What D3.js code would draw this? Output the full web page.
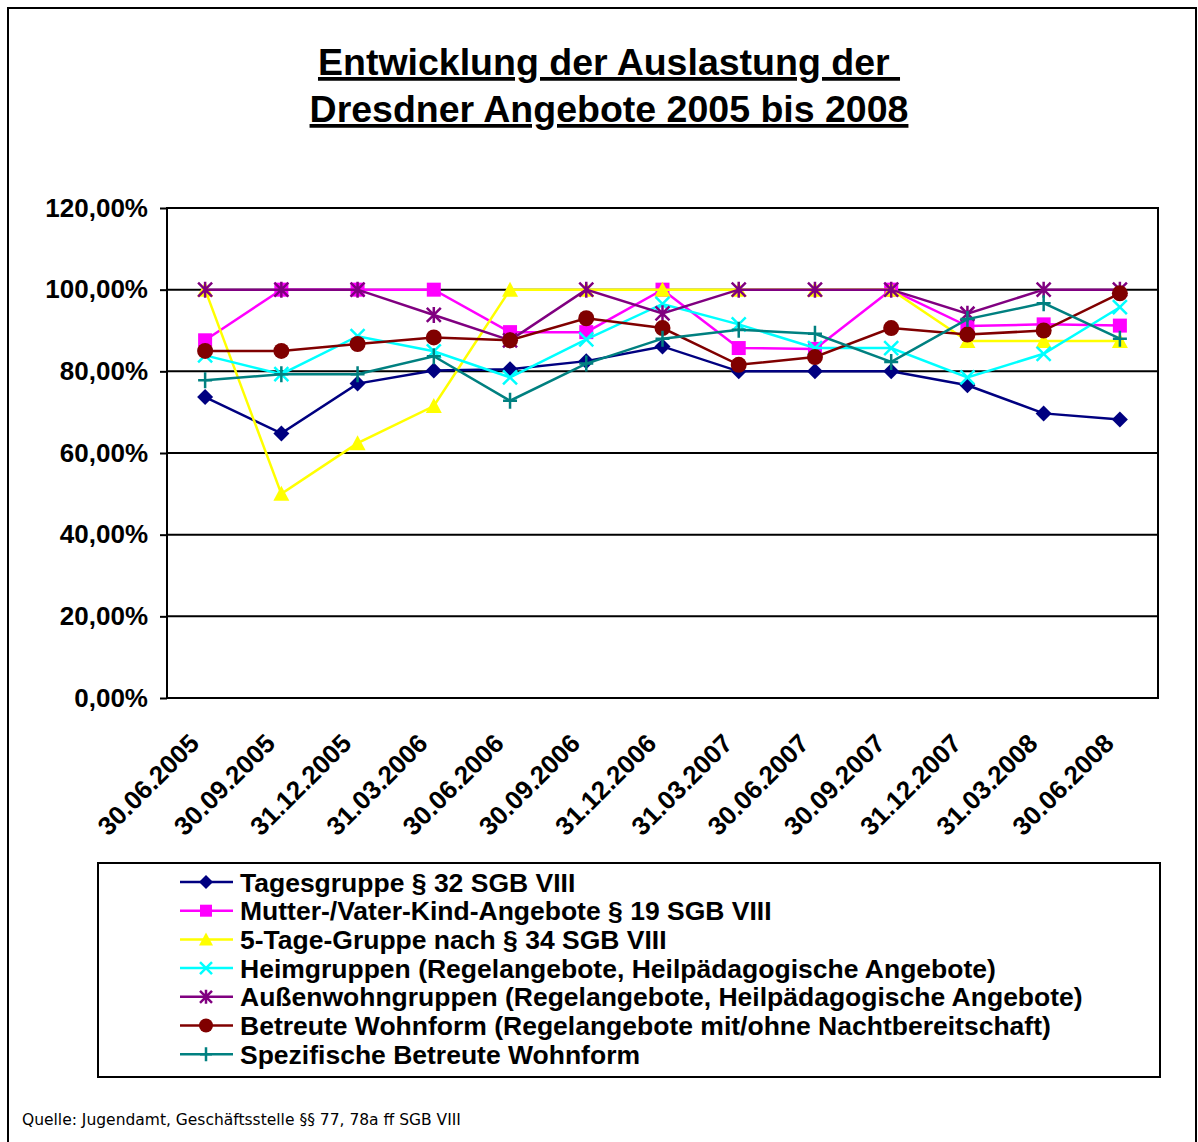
<!DOCTYPE html>
<html><head><meta charset="utf-8">
<script src="https://cdn.jsdelivr.net/npm/d3@7"></script>
<style>body{margin:0;background:#fff}svg{display:block}</style>
</head><body>
<script>
const categories = ["30.06.2005","30.09.2005","31.12.2005","31.03.2006","30.06.2006","30.09.2006","31.12.2006","31.03.2007","30.06.2007","30.09.2007","31.12.2007","31.03.2008","30.06.2008"];
const yTicks = [0,0.2,0.4,0.6,0.8,1.0,1.2];
const seriesNames = [
  "Tagesgruppe § 32 SGB VIII",
  "Mutter-/Vater-Kind-Angebote § 19 SGB VIII",
  "5-Tage-Gruppe nach § 34 SGB VIII",
  "Heimgruppen (Regelangebote, Heilpädagogische Angebote)",
  "Außenwohngruppen (Regelangebote, Heilpädagogische Angebote)",
  "Betreute Wohnform (Regelangebote mit/ohne Nachtbereitschaft)",
  "Spezifische Betreute Wohnform"
];
const tagesgruppe = [0.737,0.648,0.770,0.802,0.805,0.825,0.861,0.800,0.800,0.800,0.766,0.697,0.682];
const mutterVaterKind = [0.876,1.0,1.0,1.0,0.896,0.896,1.0,0.857,0.855,1.0,0.911,0.915,0.912];
const fuenfTage = [1.0,0.500,0.624,0.715,1.0,1.0,1.0,1.0,1.0,1.0,0.874,0.874,0.874];
const heimgruppen = [0.839,0.793,0.886,0.849,0.785,0.878,0.965,0.915,0.857,0.857,0.785,0.843,0.957];
const aussenwohngruppen = [1.0,1.0,1.0,0.938,0.876,1.0,0.942,1.0,1.0,1.0,0.941,1.0,1.0];
const betreuteWohnform = [0.850,0.850,0.867,0.883,0.876,0.930,0.906,0.816,0.835,0.906,0.890,0.900,0.991];
const spezifische = [0.778,0.793,0.793,0.837,0.728,0.819,0.880,0.902,0.892,0.823,0.928,0.967,0.880];
const seriesValues = [tagesgruppe, mutterVaterKind, fuenfTage, heimgruppen, aussenwohngruppen, betreuteWohnform, spezifische];
const colors = ["#000080","#FF00FF","#FFFF00","#00FFFF","#800080","#800000","#008080"];
const markers = ["diamond","square","triangle","x","star","circle","plus"];

const W = 1198, H = 1142;
const svg = d3.select("body").append("svg").attr("width", W).attr("height", H);
svg.append("rect").attr("x",0).attr("y",0).attr("width",W).attr("height",H).attr("fill","#fff");
svg.append("rect").attr("x",8).attr("y",8).attr("width",1188).attr("height",H).attr("fill","none").attr("stroke","#000").attr("stroke-width",2);

const FONT = "'Liberation Sans', Arial, sans-serif";
const titleLines = ["Entwicklung der Auslastung der\u00a0", "Dresdner Angebote 2005 bis 2008"];
titleLines.forEach((t,i)=>{
  svg.append("text").attr("x",609).attr("y",75+i*47).attr("text-anchor","middle")
    .attr("font-family",FONT).attr("font-weight","bold").attr("font-size",37.5)
    .attr("text-decoration","underline").attr("fill","#000").text(t);
});

const pLeft=167, pRight=1158, pTop=208, pBottom=698;
const x = d3.scalePoint().domain(categories).range([pLeft,pRight]).padding(0.5);
const y = d3.scaleLinear().domain([0,1.2]).range([pBottom,pTop]);

const fmt = v => (v*100).toFixed(2).replace(".",",") + "%";

svg.append("g").selectAll("line").data(yTicks).join("line")
  .attr("x1",pLeft).attr("x2",pRight).attr("y1",d=>y(d)).attr("y2",d=>y(d))
  .attr("stroke","#000").attr("stroke-width",2);

const yAxis = d3.axisLeft(y).tickValues(yTicks).tickFormat(fmt).tickSize(7).tickPadding(12);
const gy = svg.append("g").attr("transform",`translate(${pLeft},0)`).call(yAxis);
gy.select(".domain").remove();
gy.selectAll(".tick line").attr("stroke","#000").attr("stroke-width",2);
gy.selectAll(".tick text").attr("font-family",FONT).attr("font-weight","bold").attr("font-size",26).attr("fill","#000");

svg.append("rect").attr("x",pLeft).attr("y",pTop).attr("width",pRight-pLeft).attr("height",pBottom-pTop)
  .attr("fill","none").attr("stroke","#000").attr("stroke-width",2);

const xAxis = d3.axisBottom(x).tickSize(0).tickPadding(0);
const gx = svg.append("g").attr("transform",`translate(0,${pBottom})`).call(xAxis);
gx.select(".domain").remove();
gx.selectAll(".tick text")
  .attr("font-family",FONT).attr("font-weight","bold").attr("font-size",26).attr("fill","#000")
  .attr("text-anchor","end").attr("dy",0)
  .attr("transform","translate(-5,47) rotate(-45)");

function drawMarker(g, type, color, cx, cy, s) {
  const h = s/2;
  if (type==="diamond") {
    g.append("path").attr("d",`M${cx},${cy-h-1}L${cx+h+1},${cy}L${cx},${cy+h+1}L${cx-h-1},${cy}Z`).attr("fill",color);
  } else if (type==="square") {
    g.append("rect").attr("x",cx-h).attr("y",cy-h).attr("width",s).attr("height",s).attr("fill",color);
  } else if (type==="triangle") {
    g.append("path").attr("d",`M${cx},${cy-h-1}L${cx+h+1},${cy+h}L${cx-h-1},${cy+h}Z`).attr("fill",color);
  } else if (type==="x") {
    g.append("path").attr("d",`M${cx-h},${cy-h}L${cx+h},${cy+h}M${cx+h},${cy-h}L${cx-h},${cy+h}`).attr("stroke",color).attr("stroke-width",2.5).attr("fill","none");
  } else if (type==="star") {
    g.append("path").attr("d",`M${cx-h},${cy-h}L${cx+h},${cy+h}M${cx+h},${cy-h}L${cx-h},${cy+h}M${cx},${cy-h-1}L${cx},${cy+h+1}`).attr("stroke",color).attr("stroke-width",2.5).attr("fill","none");
  } else if (type==="circle") {
    g.append("circle").attr("cx",cx).attr("cy",cy).attr("r",h+1).attr("fill",color);
  } else if (type==="plus") {
    g.append("path").attr("d",`M${cx-h},${cy}L${cx+h},${cy}M${cx},${cy-h-1}L${cx},${cy+h+1}`).attr("stroke",color).attr("stroke-width",2.5).attr("fill","none");
  }
}

const line = d3.line().x((d,i)=>x(categories[i])).y(d=>y(d));
seriesValues.forEach((vals,si)=>{
  const g = svg.append("g");
  g.append("path").datum(vals).attr("d",line).attr("fill","none").attr("stroke",colors[si]).attr("stroke-width",2.5);
  vals.forEach((v,i)=> drawMarker(g, markers[si], colors[si], x(categories[i]), y(v), 14));
});

svg.append("rect").attr("x",98).attr("y",863).attr("width",1062).attr("height",214)
  .attr("fill","#fff").attr("stroke","#000").attr("stroke-width",2);
seriesNames.forEach((name,si)=>{
  const cy = 882 + si*28.7;
  const g = svg.append("g");
  g.append("line").attr("x1",180).attr("x2",233).attr("y1",cy).attr("y2",cy).attr("stroke",colors[si]).attr("stroke-width",2.5);
  drawMarker(g, markers[si], colors[si], 206, cy, 12);
  g.append("text").attr("x",240).attr("y",cy+9.5).attr("font-family",FONT).attr("font-weight","bold")
    .attr("font-size",26.5).attr("fill","#000").text(name);
});

svg.append("text").attr("x",22).attr("y",1125).attr("font-family","'DejaVu Sans', sans-serif")
  .attr("font-size",15.5).attr("fill","#000").text("Quelle: Jugendamt, Geschäftsstelle §§ 77, 78a ff SGB VIII");
</script>
</body></html>
